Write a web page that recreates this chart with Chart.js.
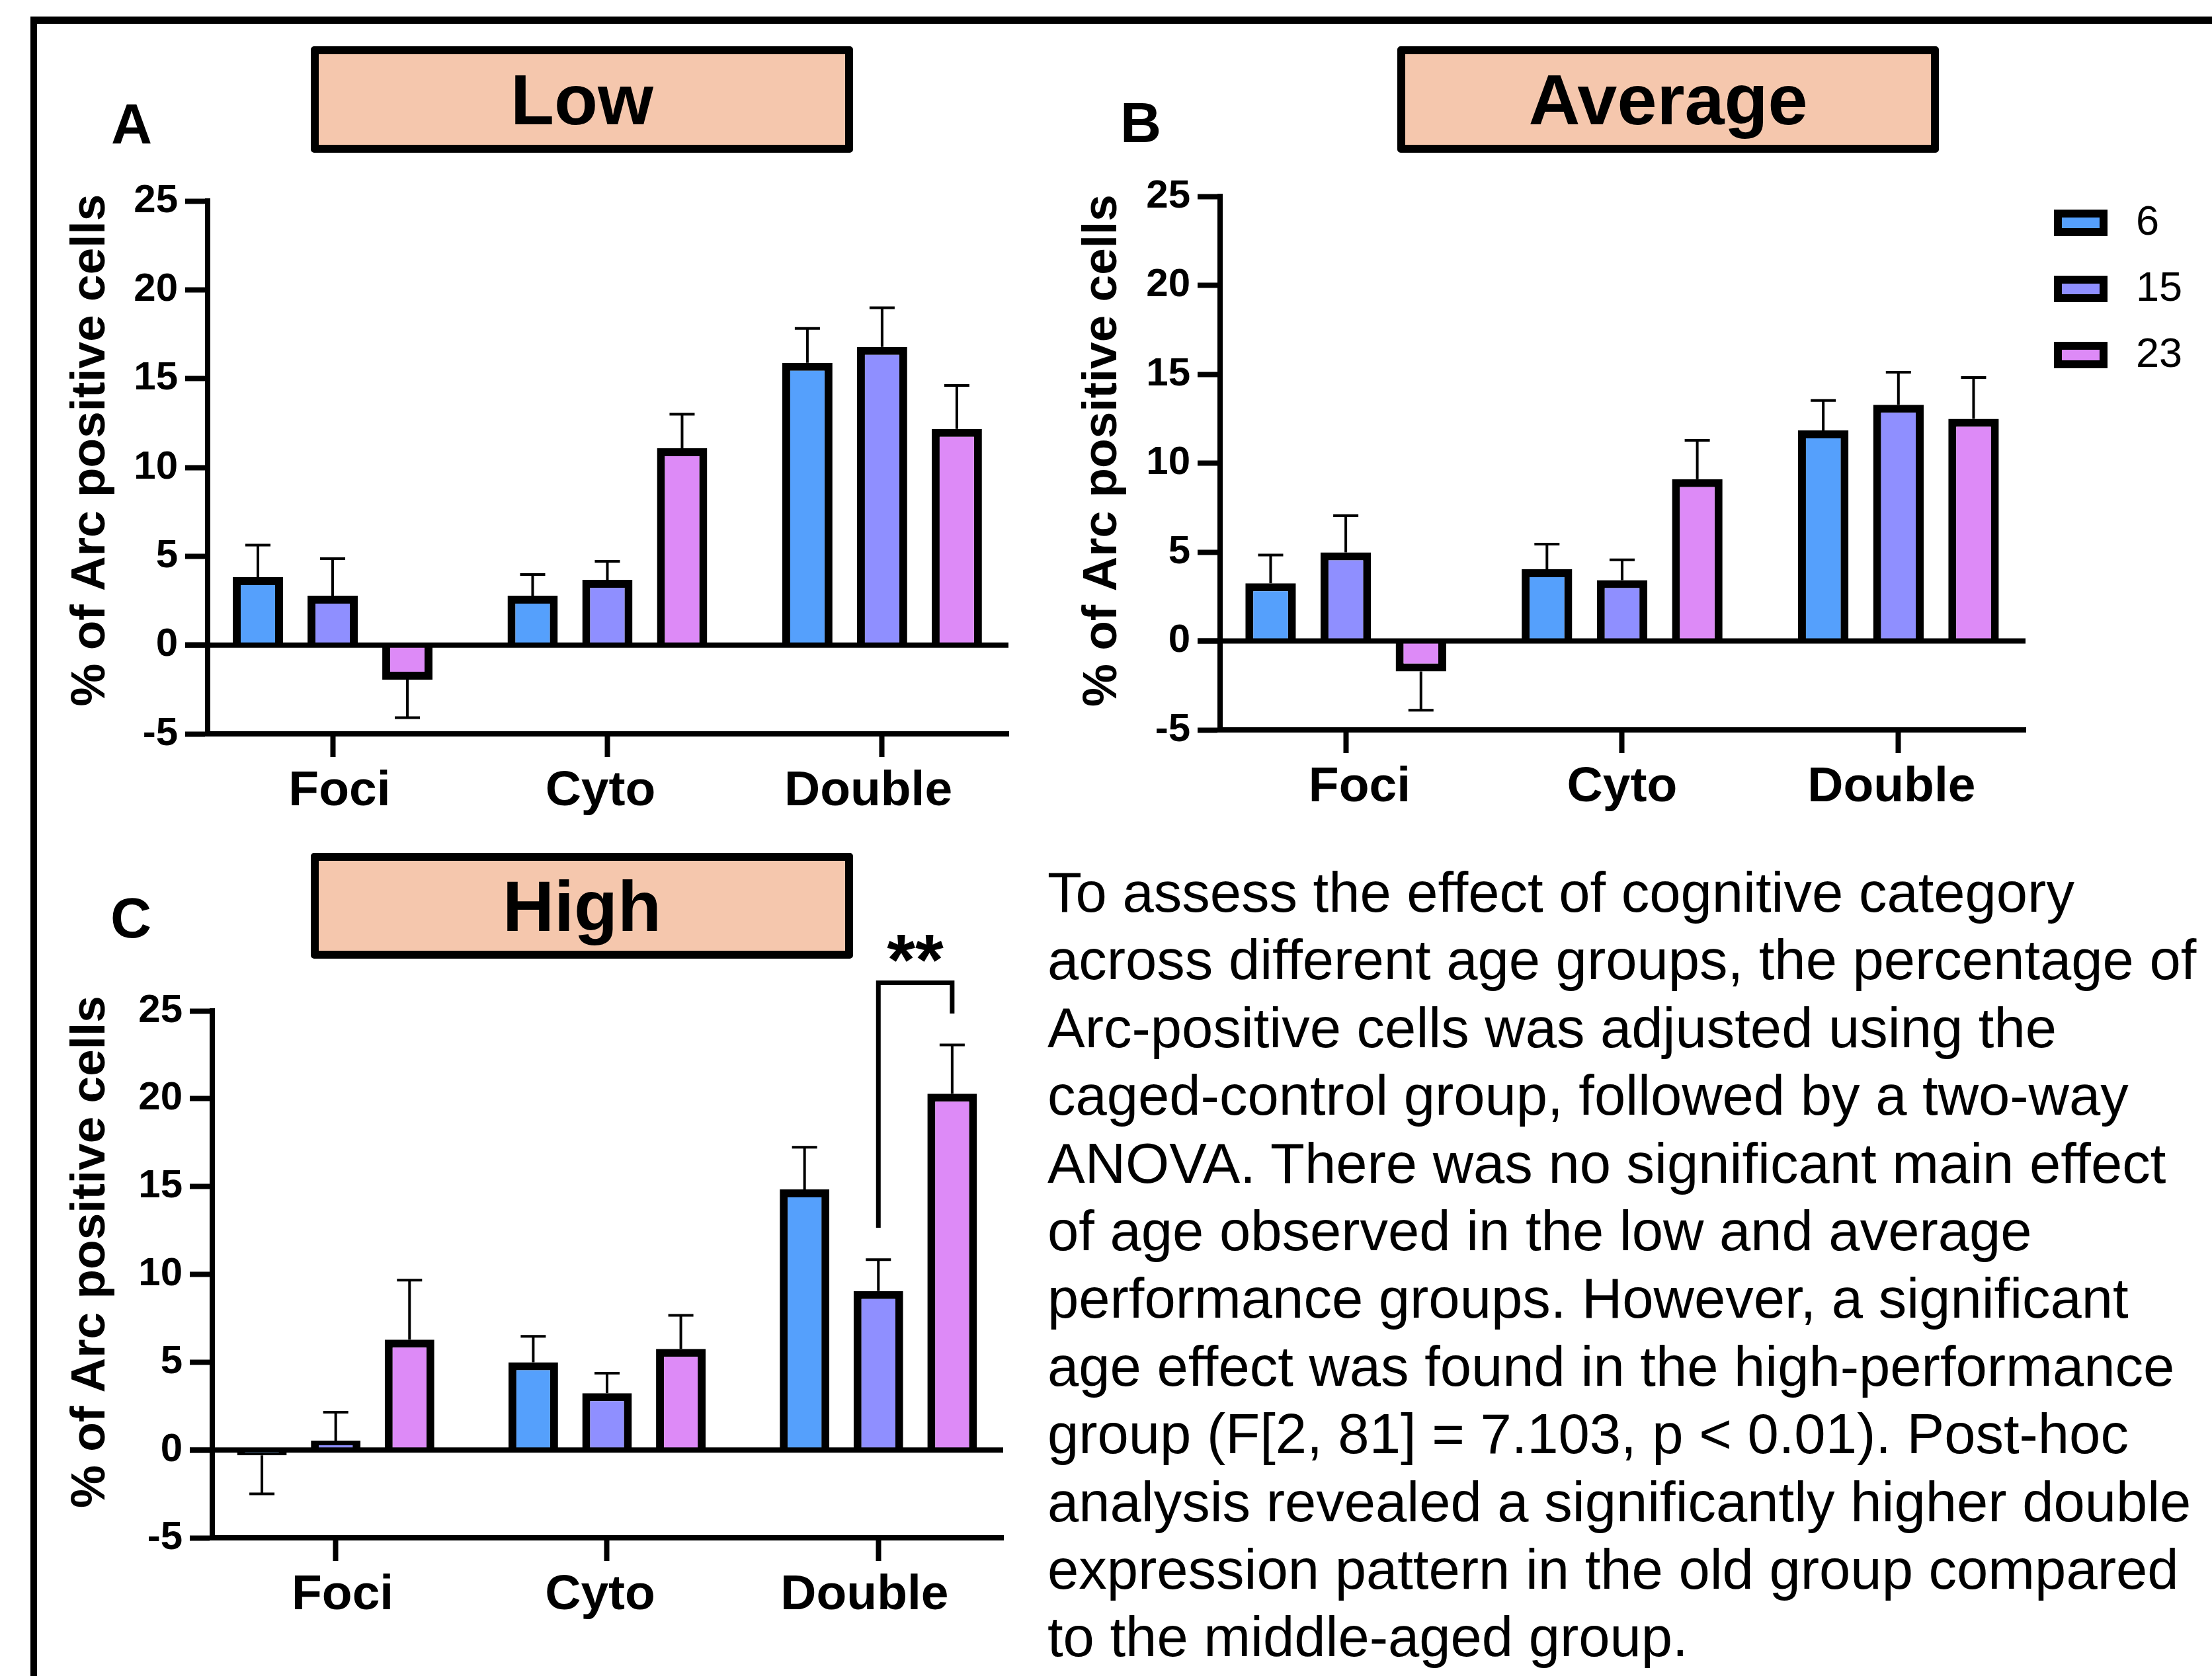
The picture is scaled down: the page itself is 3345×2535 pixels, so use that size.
<!DOCTYPE html>
<html>
<head>
<meta charset="utf-8">
<script src="https://cdn.jsdelivr.net/npm/chart.js@4.4.0/dist/chart.umd.min.js"></script>
<style>
  body { margin: 0; width: 3345px; height: 2535px; position: relative; overflow: hidden; background: #fff;
         font-family: 'Liberation Sans', Arial, sans-serif; color: #000; }
  .frame { position: absolute; left: 46px; top: 25px; width: 3400px; height: 2600px;
           border-left: 10px solid #000; border-top: 11px solid #000; }
  .head { position: absolute; box-sizing: border-box; border: 12px solid #000; border-radius: 5px;
          background: #F5C7AD; display: flex; align-items: center; justify-content: center;
          font-weight: bold; font-size: 108px; }
  .tag { position: absolute; font-weight: bold; font-size: 86px; line-height: 86px; }
  canvas { position: absolute; }
  .note { position: absolute; left: 1584px; top: 1299px; font-size: 85px; line-height: 102.4px; white-space: nowrap; }
</style>
</head>
<body>
<div class="frame"></div>

<div class="head" style="left:470px;top:70px;width:820px;height:161px;">Low</div>
<div class="head" style="left:2113px;top:70px;width:819px;height:161px;">Average</div>
<div class="head" style="left:470px;top:1290px;width:820px;height:160px;">High</div>

<div class="tag" style="left:168px;top:144px;">A</div>
<div class="tag" style="left:1694px;top:142px;">B</div>
<div class="tag" style="left:167px;top:1345px;">C</div>

<canvas id="low" width="1500" height="1040" style="left:60px;top:250px;"></canvas>
<canvas id="avg" width="1740" height="1040" style="left:1590px;top:250px;"></canvas>
<canvas id="high" width="1500" height="1150" style="left:60px;top:1380px;"></canvas>

<div class="note">To assess the effect of cognitive category<br>across different age groups, the percentage of<br>Arc-positive cells was adjusted using the<br>caged-control group, followed by a two-way<br>ANOVA. There was no significant main effect<br>of age observed in the low and average<br>performance groups. However, a significant<br>age effect was found in the high-performance<br>group (F[2, 81] = 7.103, p &lt; 0.01). Post-hoc<br>analysis revealed a significantly higher double<br>expression pattern in the old group compared<br>to the middle-aged group.</div>

<script>
const family = "'Liberation Sans', Arial, sans-serif";

const categories = ['Foci', 'Cyto', 'Double'];
const ages = ['6', '15', '23'];
const colors = ['#55A0FC', '#8F8FFF', '#DD8AF7'];
const yTicks = [-5, 25, 5]; // min, max, step

// Low performers
const low6 = [3.82, 2.78, 15.89];
const low15 = [2.78, 3.67, 16.78];
const low23 = [-1.95, 11.08, 12.17];
const low6Err = [1.81, 1.19, 1.94];
const low15Err = [2.08, 1.04, 2.21];
const low23Err = [2.14, 1.92, 2.45];

// Average performers
const avg6 = [3.24, 4.03, 11.84];
const avg15 = [4.98, 3.42, 13.28];
const avg23 = [-1.71, 9.10, 12.49];
const avg6Err = [1.59, 1.42, 1.68];
const avg15Err = [2.06, 1.14, 1.83];
const avg23Err = [2.18, 2.18, 2.32];

// High performers
const high6 = [-0.30, 4.99, 14.84];
const high15 = [0.53, 3.23, 9.05];
const high23 = [6.28, 5.76, 20.29];
const high6Err = [2.20, 1.48, 2.40];
const high15Err = [1.62, 1.14, 1.79];
const high23Err = [3.39, 1.91, 2.77];

const yTitle = '% of Arc positive cells';

// zero line, error bars, y title, legend and the significance bracket
const decor = {
  id: 'decor',
  afterDatasetsDraw(chart, args, o) {
    const { ctx, chartArea: a, scales: { y } } = chart;
    ctx.save();
    ctx.strokeStyle = '#000';
    ctx.lineWidth = 8;
    const y0 = y.getPixelForValue(0);
    ctx.beginPath();
    ctx.moveTo(a.left - 34, y0);
    ctx.lineTo(a.right, y0);
    ctx.stroke();

    ctx.lineWidth = 4;
    chart.data.datasets.forEach((ds, d) => {
      chart.getDatasetMeta(d).data.forEach((bar, i) => {
        const v = ds.data[i].y;
        const tip = y.getPixelForValue(v + Math.sign(v) * ds.errors[i]);
        ctx.beginPath();
        ctx.moveTo(bar.x, y.getPixelForValue(v));
        ctx.lineTo(bar.x, tip);
        ctx.moveTo(bar.x - 19, tip);
        ctx.lineTo(bar.x + 19, tip);
        ctx.stroke();
      });
    });
    ctx.restore();
  },
  afterDraw(chart, args, o) {
    const { ctx, chartArea: a, scales: { y } } = chart;
    ctx.save();
    ctx.fillStyle = '#000';
    ctx.strokeStyle = '#000';

    ctx.save();
    ctx.translate(a.left - o.titleDx, (a.top + a.bottom) / 2 + o.titleDy);
    ctx.rotate(-Math.PI / 2);
    ctx.font = 'bold 73px ' + family;
    ctx.textAlign = 'center';
    ctx.textBaseline = 'middle';
    ctx.fillText(yTitle, 0, 0);
    ctx.restore();

    if (o.legend) {
      chart.data.datasets.forEach((ds, d) => {
        const bx = a.right + 43, by = a.top + 20 + d * 100;
        ctx.fillStyle = ds.backgroundColor;
        ctx.fillRect(bx, by, 81, 40);
        ctx.lineWidth = 12;
        ctx.strokeRect(bx + 6, by + 6, 69, 28);
        ctx.fillStyle = '#000';
        ctx.font = '63px ' + family;
        ctx.textAlign = 'left';
        ctx.textBaseline = 'middle';
        ctx.fillText(ds.label, bx + 124, by + 21);
      });
    }

    if (o.sig) {
      const s = o.sig;
      const xa = chart.getDatasetMeta(s.from).data[s.index].x;
      const xb = chart.getDatasetMeta(s.to).data[s.index].x;
      const top = y.getPixelForValue(s.top);
      ctx.lineWidth = 7;
      ctx.beginPath();
      ctx.moveTo(xa, y.getPixelForValue(s.fromY));
      ctx.lineTo(xa, top);
      ctx.lineTo(xb, top);
      ctx.lineTo(xb, y.getPixelForValue(s.toY));
      ctx.stroke();
      ctx.font = 'bold 110px ' + family;
      ctx.textAlign = 'center';
      ctx.textBaseline = 'alphabetic';
      ctx.fillText(s.text, (xa + xb) / 2, y.getPixelForValue(s.textY));
    }
    ctx.restore();
  }
};

// labels in the original sit a little off their tick marks; nudge by whole spaces
function nudged(label, n) {
  return n > 0 ? ' '.repeat(n) + label : label + ' '.repeat(-n);
}

function panel(id, means, errs, deco) {
  const datasets = ages.map((age, s) => ({
    label: age,
    data: means[s].map((v, i) => ({ x: i, y: v })),
    errors: errs[s],
    backgroundColor: colors[s],
    borderColor: '#000',
    borderWidth: 12,
    categoryPercentage: 0.816,
    barPercentage: 0.672
  }));

  new Chart(document.getElementById(id), {
    type: 'bar',
    data: { datasets },
    options: {
      responsive: false,
      animation: false,
      layout: { padding: deco.pad },
      plugins: {
        legend: { display: false },
        tooltip: { enabled: false },
        decor: deco
      },
      scales: {
        x: {
          type: 'linear',
          min: -0.455,
          max: 2.46,
          offset: false,
          afterBuildTicks: sc => { sc.ticks = categories.map((c, i) => ({ value: i })); },
          afterFit: sc => { sc.height = 160; },
          grid: { offset: false, drawOnChartArea: false, tickLength: 35, tickWidth: 8, tickColor: '#000' },
          border: { display: true, width: 8, color: '#000' },
          ticks: {
            padding: 7,
            color: '#000',
            font: { family, size: 75, weight: 'bold', lineHeight: 1.2 },
            callback: v => nudged(categories[v], deco.nudge[v])
          }
        },
        y: {
          min: yTicks[0],
          max: yTicks[1],
          afterFit: sc => { sc.width = deco.yw; },
          grid: { drawOnChartArea: false, tickLength: 34, tickWidth: 8, tickColor: '#000' },
          border: { display: true, width: 8, color: '#000' },
          ticks: {
            stepSize: yTicks[2],
            padding: 11,
            color: '#000',
            font: { family, size: 60, weight: 'bold' }
          }
        }
      }
    },
    plugins: [decor]
  });
}

panel('low', [low6, low15, low23], [low6Err, low15Err, low23Err], {
  pad: { left: 0, top: 54, right: 35, bottom: 20 }, yw: 254, titleDx: 176, titleDy: -26,
  nudge: [1, -1, -2]
});

panel('avg', [avg6, avg15, avg23], [avg6Err, avg15Err, avg23Err], {
  pad: { left: 0, top: 45, right: 267, bottom: 26 }, yw: 255, titleDx: 177, titleDy: -19, legend: true,
  nudge: [2, 0, -1]
});

panel('high', [high6, high15, high23], [high6Err, high15Err, high23Err], {
  pad: { left: 0, top: 149, right: 43, bottom: 44 }, yw: 261, titleDx: 183, titleDy: -34,
  nudge: [1, -1, -2],
  sig: { index: 2, from: 1, to: 2, top: 26.6, fromY: 12.65, toY: 24.85, textY: 26.5, text: '**' }
});
</script>
</body>
</html>
